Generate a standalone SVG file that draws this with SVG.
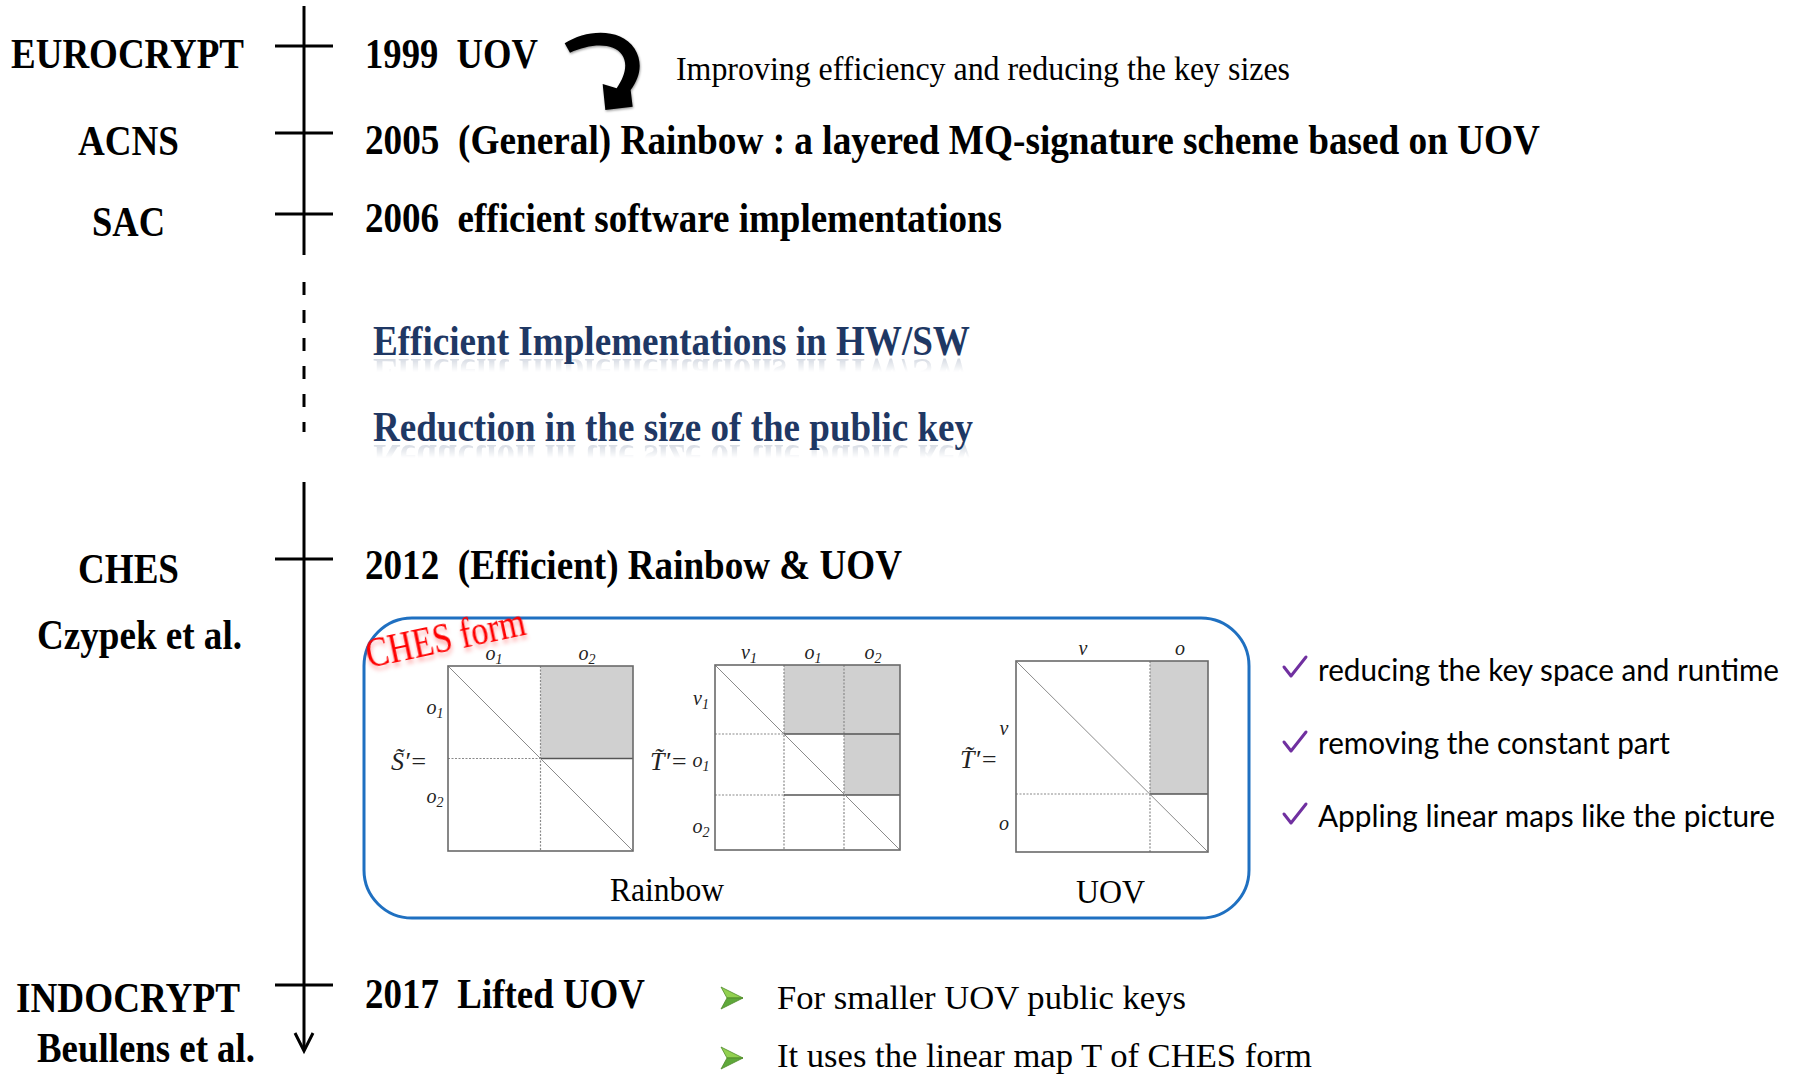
<svg xmlns="http://www.w3.org/2000/svg" xmlns:xlink="http://www.w3.org/1999/xlink" width="1800" height="1074" viewBox="0 0 1800 1074">
<style>
.bold{font-family:"Liberation Serif","Times New Roman",serif;font-weight:bold;font-size:42px;fill:#000}
.reg{font-family:"Liberation Serif","Times New Roman",serif;font-size:33px;fill:#000}
.navy{font-family:"Liberation Serif","Times New Roman",serif;font-weight:bold;font-size:42px;fill:#1F3864}
.sans{font-family:Lato,"Open Sans",sans-serif;font-size:31px;fill:#000}
.math{font-family:"Liberation Serif","DejaVu Serif",serif;font-style:italic;font-size:20px;fill:#222}
.eq{font-family:"Liberation Serif","DejaVu Serif",serif;font-style:italic;font-size:26px;fill:#222}
.tl{stroke:#000;stroke-width:3;fill:none}
.mborder{fill:none;stroke:#6a6a6a;stroke-width:1.6}
.gray{fill:#D0D0D0}
.dot{stroke:#8a8a8a;stroke-width:1.2;stroke-dasharray:2 1.5;fill:none}
.sol{stroke:#555;stroke-width:1.4;fill:none}
.diag{stroke:#8a8a8a;stroke-width:1;fill:none}
.chk{fill:none;stroke:#7030A0;stroke-width:3;stroke-linecap:round;stroke-linejoin:round}
</style>
<defs>
<filter id="shadow" x="-30%" y="-30%" width="160%" height="160%">
<feDropShadow dx="2" dy="4" stdDeviation="2.5" flood-color="#000" flood-opacity="0.4"/>
</filter>
<filter id="redshadow" x="-10%" y="-30%" width="120%" height="160%">
<feDropShadow dx="0" dy="4" stdDeviation="2" flood-color="#ff0000" flood-opacity="0.35"/>
</filter>
<linearGradient id="fade" x1="0" y1="0" x2="0" y2="1">
<stop offset="0" stop-color="#fff" stop-opacity="0.22"/>
<stop offset="1" stop-color="#fff" stop-opacity="0"/>
</linearGradient>
<mask id="m1" maskUnits="userSpaceOnUse" x="360" y="356" width="640" height="16">
<rect x="360" y="356" width="640" height="16" fill="url(#fade)"/>
</mask>
<mask id="m2" maskUnits="userSpaceOnUse" x="360" y="442" width="640" height="16">
<rect x="360" y="442" width="640" height="16" fill="url(#fade)"/>
</mask>
</defs>

<g id="connectors">
<line class="tl" x1="304" y1="6" x2="304" y2="255"/>
<line class="tl" x1="304" y1="282" x2="304" y2="432" stroke-dasharray="13 15"/>
<line class="tl" x1="304" y1="482" x2="304" y2="1050"/>
<polyline class="tl" points="295,1033 304,1051 313,1033"/>
<line class="tl" x1="275" y1="46" x2="333" y2="46"/>
<line class="tl" x1="275" y1="133" x2="333" y2="133"/>
<line class="tl" x1="275" y1="214" x2="333" y2="214"/>
<line class="tl" x1="275" y1="559" x2="333" y2="559"/>
<line class="tl" x1="275" y1="985" x2="333" y2="985"/>
<path id="curved-arrow" filter="url(#shadow)" fill="#000" transform="translate(550,20) scale(0.3333)" d="M44 70 C108 28 212 22 254 86 C280 128 270 174 242 210 L248 260 L166 270 L158 192 L200 205 C226 168 234 130 216 104 C190 66 120 70 60 98 Z"/>
</g>

<g id="venues">
<text class="bold" x="11" y="68" textLength="233" lengthAdjust="spacingAndGlyphs">EUROCRYPT</text>
<text class="bold" x="78" y="155" textLength="101" lengthAdjust="spacingAndGlyphs">ACNS</text>
<text class="bold" x="92" y="236" textLength="73" lengthAdjust="spacingAndGlyphs">SAC</text>
<text class="bold" x="78" y="583" textLength="101" lengthAdjust="spacingAndGlyphs">CHES</text>
<text class="bold" x="37" y="649" textLength="205" lengthAdjust="spacingAndGlyphs">Czypek et al.</text>
<text class="bold" x="16" y="1012" textLength="224" lengthAdjust="spacingAndGlyphs">INDOCRYPT</text>
<text class="bold" x="37" y="1062" textLength="218" lengthAdjust="spacingAndGlyphs">Beullens et al.</text>
</g>

<g id="events">
<text class="bold" x="365" y="68" textLength="173" lengthAdjust="spacingAndGlyphs" xml:space="preserve">1999  UOV</text>
<text class="reg" x="676" y="80" textLength="614" lengthAdjust="spacingAndGlyphs">Improving efficiency and reducing the key sizes</text>
<text class="bold" x="365" y="154" textLength="1175" lengthAdjust="spacingAndGlyphs" xml:space="preserve">2005  (General) Rainbow : a layered MQ-signature scheme based on UOV</text>
<text class="bold" x="365" y="232" textLength="637" lengthAdjust="spacingAndGlyphs" xml:space="preserve">2006  efficient software implementations</text>
<text class="bold" x="365" y="579" textLength="537" lengthAdjust="spacingAndGlyphs" xml:space="preserve">2012  (Efficient) Rainbow &amp; UOV</text>
<text class="bold" x="365" y="1008" textLength="280" lengthAdjust="spacingAndGlyphs" xml:space="preserve">2017  Lifted UOV</text>
</g>

<g id="topics">
<text id="t1" class="navy" x="373" y="355" textLength="597" lengthAdjust="spacingAndGlyphs">Efficient Implementations in HW/SW</text>
<text id="t2" class="navy" x="373" y="441" textLength="600" lengthAdjust="spacingAndGlyphs">Reduction in the size of the public key</text>
<g mask="url(#m1)"><use xlink:href="#t1" transform="translate(0,714) scale(1,-1)"/></g>
<g mask="url(#m2)"><use xlink:href="#t2" transform="translate(0,886) scale(1,-1)"/></g>
</g>

<g id="ches-box">
<rect x="364" y="618" width="885" height="300" rx="48" fill="none" stroke="#1F70C1" stroke-width="3"/>
</g>

<g id="matrix-rainbow-s">
<rect x="448" y="666" width="185" height="185" fill="#fff"/>
<rect class="gray" x="540.5" y="666" width="92.5" height="92.5"/>
<line class="dot" x1="540.5" y1="666" x2="540.5" y2="851"/>
<line class="dot" x1="448" y1="758.5" x2="540.5" y2="758.5"/>
<line class="sol" x1="540.5" y1="758.5" x2="633" y2="758.5"/>
<line class="diag" x1="448" y1="666" x2="633" y2="851"/>
<rect class="mborder" x="448" y="666" width="185" height="185"/>
<text class="math" x="494" y="660" text-anchor="middle">o<tspan font-size="14" dy="4">1</tspan></text>
<text class="math" x="587" y="660" text-anchor="middle">o<tspan font-size="14" dy="4">2</tspan></text>
<text class="math" x="435" y="714" text-anchor="middle">o<tspan font-size="14" dy="4">1</tspan></text>
<text class="math" x="435" y="803" text-anchor="middle">o<tspan font-size="14" dy="4">2</tspan></text>
<text class="eq" x="391" y="770">S̃′=</text>
</g>

<g id="matrix-rainbow-t">
<rect x="715" y="665" width="185" height="185" fill="#fff"/>
<rect class="gray" x="784" y="665" width="116" height="69"/>
<rect class="gray" x="844" y="734" width="56" height="61"/>
<line class="dot" x1="784" y1="665" x2="784" y2="850"/>
<line class="dot" x1="844" y1="665" x2="844" y2="850"/>
<line class="dot" x1="715" y1="734" x2="784" y2="734"/>
<line class="dot" x1="715" y1="795" x2="784" y2="795"/>
<line class="sol" x1="784" y1="734" x2="900" y2="734"/>
<line class="sol" x1="784" y1="795" x2="900" y2="795"/>
<line class="diag" x1="715" y1="665" x2="900" y2="850"/>
<rect class="mborder" x="715" y="665" width="185" height="185"/>
<text class="math" x="749" y="659" text-anchor="middle">v<tspan font-size="14" dy="4">1</tspan></text>
<text class="math" x="813" y="659" text-anchor="middle">o<tspan font-size="14" dy="4">1</tspan></text>
<text class="math" x="873" y="659" text-anchor="middle">o<tspan font-size="14" dy="4">2</tspan></text>
<text class="math" x="701" y="705" text-anchor="middle">v<tspan font-size="14" dy="4">1</tspan></text>
<text class="math" x="701" y="767" text-anchor="middle">o<tspan font-size="14" dy="4">1</tspan></text>
<text class="math" x="701" y="833" text-anchor="middle">o<tspan font-size="14" dy="4">2</tspan></text>
<text class="eq" x="650" y="770">T̃′=</text>
</g>

<g id="matrix-uov-t">
<rect x="1016" y="661" width="192" height="191" fill="#fff"/>
<rect class="gray" x="1150" y="661" width="58" height="133"/>
<line class="dot" x1="1150" y1="661" x2="1150" y2="852"/>
<line class="dot" x1="1016" y1="794" x2="1150" y2="794"/>
<line class="sol" x1="1150" y1="794" x2="1208" y2="794"/>
<line class="diag" x1="1016" y1="661" x2="1208" y2="852"/>
<rect class="mborder" x="1016" y="661" width="192" height="191"/>
<text class="math" x="1083" y="655" text-anchor="middle">v</text>
<text class="math" x="1180" y="655" text-anchor="middle">o</text>
<text class="math" x="1004" y="735" text-anchor="middle">v</text>
<text class="math" x="1004" y="830" text-anchor="middle">o</text>
<text class="eq" x="960" y="768">T̃′=</text>
</g>

<g id="box-labels">
<text class="reg" x="610" y="901" textLength="114" lengthAdjust="spacingAndGlyphs">Rainbow</text>
<text class="reg" x="1076" y="903" textLength="69" lengthAdjust="spacingAndGlyphs">UOV</text>
<text x="369" y="668" transform="rotate(-12 369 668)" filter="url(#redshadow)" font-family="Liberation Serif, serif" font-size="42" fill="#FF0000" textLength="162" lengthAdjust="spacingAndGlyphs">CHES form</text>
</g>

<g id="ches-notes">
<path class="chk" d="M1284 667 L1291 676 L1306 657"/>
<path class="chk" d="M1284 742 L1291 751 L1306 732"/>
<path class="chk" d="M1284 814 L1291 823 L1306 804"/>
<text class="sans" x="1318" y="681" textLength="461" lengthAdjust="spacingAndGlyphs">reducing the key space and runtime</text>
<text class="sans" x="1318" y="754" textLength="352" lengthAdjust="spacingAndGlyphs">removing the constant part</text>
<text class="sans" x="1318" y="827" textLength="457" lengthAdjust="spacingAndGlyphs">Appling linear maps like the picture</text>
</g>

<g id="lifted-notes">
<polygon points="721,987 743,998 727,998" fill="#92D050" stroke="#4E8A2A" stroke-width="0.8"/>
<polygon points="727,998 743,998 721,1009" fill="#5FA83A" stroke="#4E8A2A" stroke-width="0.8"/>
<polygon points="721,1047 743,1058 727,1058" fill="#92D050" stroke="#4E8A2A" stroke-width="0.8"/>
<polygon points="727,1058 743,1058 721,1069" fill="#5FA83A" stroke="#4E8A2A" stroke-width="0.8"/>
<text class="reg" x="777" y="1009" font-size="36" textLength="409" lengthAdjust="spacingAndGlyphs">For smaller UOV public keys</text>
<text class="reg" x="777" y="1067" font-size="36" textLength="535" lengthAdjust="spacingAndGlyphs">It uses the linear map T of CHES form</text>
</g>
</svg>
